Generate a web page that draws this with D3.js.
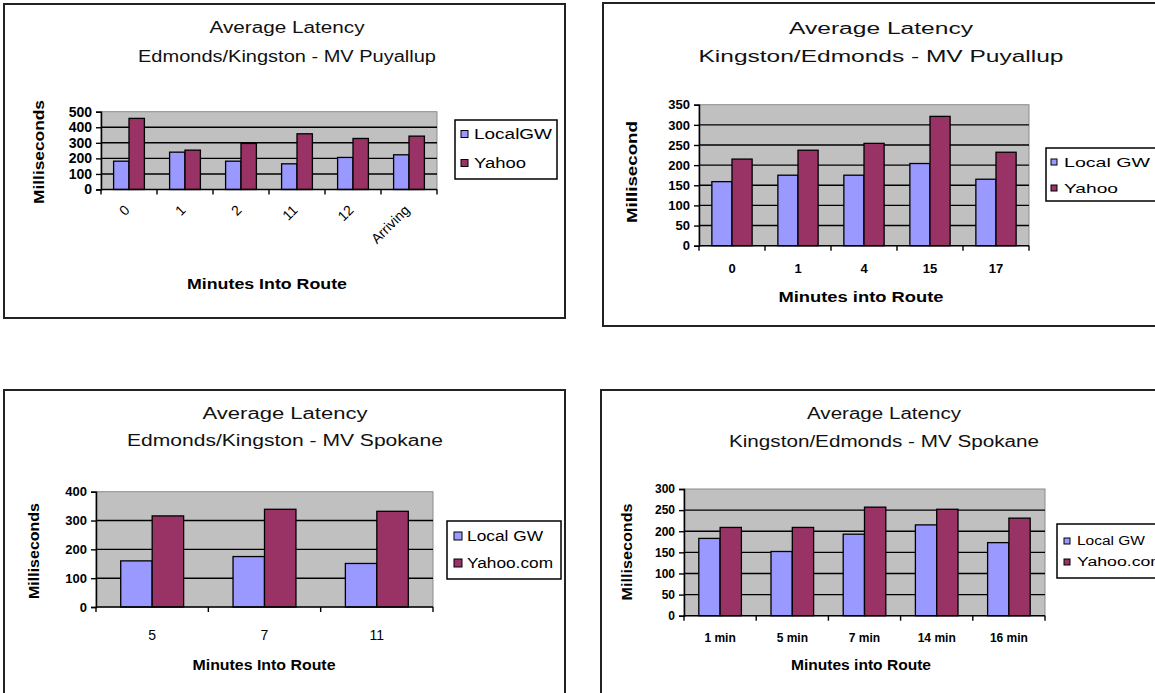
<!DOCTYPE html>
<html>
<head>
<meta charset="utf-8">
<script src="https://cdn.jsdelivr.net/npm/d3@7"></script>
<style>
  html, body { margin: 0; padding: 0; background: #ffffff; }
  svg { display: block; font-family: "Liberation Sans", Arial, sans-serif; }
</style>
</head>
<body>
<svg id="chart" width="1155" height="693"></svg>
<script>
// ---------------- DATA ----------------
const p1Title = ["Average Latency", "Edmonds/Kingston - MV Puyallup"];
const p1Categories = ["0", "1", "2", "11", "12", "Arriving"];
const p1Series = ["LocalGW", "Yahoo"];
const p1Local = [182, 240, 182, 165, 206, 223];
const p1Yahoo = [457, 253, 296, 358, 328, 343];
const p1Ticks = [0, 100, 200, 300, 400, 500];

const p2Title = ["Average Latency", "Kingston/Edmonds - MV Puyallup"];
const p2Categories = ["0", "1", "4", "15", "17"];
const p2Series = ["Local GW", "Yahoo"];
const p2Local = [159, 175, 175, 204, 165];
const p2Yahoo = [215, 237, 254, 321, 232];
const p2Ticks = [0, 50, 100, 150, 200, 250, 300, 350];

const p3Title = ["Average Latency", "Edmonds/Kingston - MV Spokane"];
const p3Categories = ["5", "7", "11"];
const p3Series = ["Local GW", "Yahoo.com"];
const p3Local = [160, 175, 151];
const p3Yahoo = [316, 339, 332];
const p3Ticks = [0, 100, 200, 300, 400];

const p4Title = ["Average Latency", "Kingston/Edmonds - MV Spokane"];
const p4Categories = ["1 min", "5 min", "7 min", "14 min", "16 min"];
const p4Series = ["Local GW", "Yahoo.com"];
const p4Local = [183, 152, 193, 215, 173];
const p4Yahoo = [209, 209, 257, 252, 231];
const p4Ticks = [0, 50, 100, 150, 200, 250, 300];

const xTitleA = "Minutes Into Route";
const xTitleB = "Minutes into Route";
const yTitleA = "Milliseconds";
const yTitleB = "Millisecond";

const colorLocal = "#9999FF";
const colorYahoo = "#993366";

// ---------------- DRAW ----------------
const svg = d3.select("#chart");
svg.append("rect").attr("width", 1155).attr("height", 693).attr("fill", "#fff");

function drawPanel(cfg) {
  const g = svg.append("g");
  // frame
  g.append("rect")
    .attr("x", cfg.frame[0]).attr("y", cfg.frame[1])
    .attr("width", cfg.frame[2] - cfg.frame[0]).attr("height", cfg.frame[3] - cfg.frame[1])
    .attr("fill", "#fff").attr("stroke", "#222").attr("stroke-width", 2);

  // titles
  cfg.title.forEach((t, i) => {
    g.append("text")
      .attr("x", cfg.titleX).attr("y", cfg.titleY[i])
      .attr("text-anchor", "middle")
      .attr("font-size", 16)
      .attr("textLength", cfg.titleW[i]).attr("lengthAdjust", "spacingAndGlyphs")
      .attr("fill", "#111")
      .text(t);
  });

  const y = d3.scaleLinear().domain([0, cfg.ticks[cfg.ticks.length - 1]]).range([cfg.y0, cfg.yTop]);
  const x0 = d3.scaleBand().domain(cfg.cats).range([cfg.left, cfg.right]).padding(0);
  const keys = ["local", "yahoo"];
  const bw = x0.bandwidth();
  const x1 = d3.scaleBand().domain(keys).range([bw * (1 - cfg.frac) / 2, bw * (1 + cfg.frac) / 2]).padding(0);

  // plot background
  g.append("rect")
    .attr("x", cfg.left).attr("y", y(cfg.ticks[cfg.ticks.length - 1]))
    .attr("width", cfg.right - cfg.left).attr("height", cfg.y0 - y(cfg.ticks[cfg.ticks.length - 1]))
    .attr("fill", "#C0C0C0").attr("stroke", "#8c8c8c").attr("stroke-width", 1);

  // gridlines
  g.selectAll(".grid").data(cfg.ticks.slice(1, -1)).enter().append("line")
    .attr("x1", cfg.left).attr("x2", cfg.right)
    .attr("y1", d => y(d)).attr("y2", d => y(d))
    .attr("stroke", "#000").attr("stroke-width", 1.4);

  // bars
  const rows = cfg.cats.map((c, i) => ({ cat: c, local: cfg.local[i], yahoo: cfg.yahoo[i] }));
  const grp = g.selectAll(".cat").data(rows).enter().append("g")
    .attr("transform", d => `translate(${x0(d.cat)},0)`);
  grp.selectAll("rect").data(d => keys.map(k => ({ key: k, value: d[k] }))).enter().append("rect")
    .attr("x", d => x1(d.key)).attr("width", x1.bandwidth())
    .attr("y", d => y(d.value)).attr("height", d => cfg.y0 - y(d.value))
    .attr("fill", d => d.key === "local" ? colorLocal : colorYahoo)
    .attr("stroke", "#000").attr("stroke-width", 1.3);

  // y axis
  const yAxis = d3.axisLeft(y).tickValues(cfg.ticks).tickSize(5).tickPadding(4).tickFormat(d3.format("d"));
  const ya = g.append("g").attr("transform", `translate(${cfg.left},0)`).call(yAxis);
  ya.select(".domain").attr("stroke", "#000").attr("stroke-width", 1.5);
  ya.selectAll(".tick line").attr("stroke", "#000").attr("stroke-width", 1.4);
  ya.selectAll("text").attr("font-size", cfg.yTickFont).attr("fill", "#000")
    .attr("font-family", '"Liberation Sans", Arial, sans-serif').attr("font-weight", "bold");

  // x axis: baseline line
  g.append("line").attr("x1", cfg.left).attr("x2", cfg.right).attr("y1", cfg.y0).attr("y2", cfg.y0)
    .attr("stroke", "#000").attr("stroke-width", 1.5);
  // category boundary ticks
  const bounds = cfg.cats.map(c => x0(c)).concat([cfg.right]);
  g.selectAll(".xt").data(bounds).enter().append("line")
    .attr("x1", d => d).attr("x2", d => d).attr("y1", cfg.y0).attr("y2", cfg.y0 + 5)
    .attr("stroke", "#000").attr("stroke-width", 1.4);
  // category labels
  const xAxis = d3.axisBottom(x0).tickSize(0).tickPadding(0);
  const xa = g.append("g").attr("transform", `translate(0,${cfg.y0})`).call(xAxis);
  xa.select(".domain").remove();
  const xt = xa.selectAll("text").attr("font-size", cfg.tickFont).attr("fill", "#000")
    .attr("font-family", '"Liberation Sans", Arial, sans-serif')
    .attr("font-weight", cfg.xBold ? "bold" : "normal");
  if (cfg.rotate) {
    xt.attr("text-anchor", "end").attr("dy", "0.35em")
      .attr("transform", "translate(-2,18) rotate(-45)");
  } else {
    xt.attr("dy", 0).attr("y", cfg.xLabelY - cfg.y0);
  }

  // axis titles
  g.append("text").attr("x", cfg.xTitlePos[0]).attr("y", cfg.xTitlePos[1])
    .attr("text-anchor", "middle").attr("font-size", 14).attr("font-weight", "bold")
    .attr("textLength", cfg.xTitlePos[2]).attr("lengthAdjust", "spacingAndGlyphs")
    .text(cfg.xTitle);
  g.append("text")
    .attr("transform", `translate(${cfg.yTitlePos[0]},${cfg.yTitlePos[1]}) rotate(-90)`)
    .attr("text-anchor", "middle").attr("font-size", 14).attr("font-weight", "bold")
    .attr("textLength", cfg.yTitlePos[2]).attr("lengthAdjust", "spacingAndGlyphs")
    .text(cfg.yTitle);

  // legend
  const L = cfg.legend;
  g.append("rect").attr("x", L.box[0]).attr("y", L.box[1])
    .attr("width", L.box[2] - L.box[0]).attr("height", L.box[3] - L.box[1])
    .attr("fill", "#fff").attr("stroke", "#000").attr("stroke-width", 1.5);
  const colors = [colorLocal, colorYahoo];
  cfg.series.forEach((s, i) => {
    g.append("rect").attr("x", L.sx).attr("y", L.rows[i] - L.ss / 2)
      .attr("width", L.ss).attr("height", L.ss)
      .attr("fill", colors[i]).attr("stroke", "#000").attr("stroke-width", 1);
    g.append("text").attr("x", L.tx).attr("y", L.rows[i]).attr("dy", "0.36em")
      .attr("font-size", L.font)
      .attr("textLength", L.tw[i]).attr("lengthAdjust", "spacingAndGlyphs")
      .text(s);
  });
}

drawPanel({
  frame: [4, 4, 565, 318],
  title: p1Title, titleX: 287, titleY: [33, 62], titleW: [155, 298],
  cats: p1Categories, local: p1Local, yahoo: p1Yahoo, ticks: p1Ticks, series: p1Series,
  left: 101, right: 437, y0: 189.5, yTop: 111.7, frac: 0.55, tickFont: 14, yTickFont: 14, rotate: true, xBold: false,
  xTitle: xTitleA, xTitlePos: [267, 289, 160],
  yTitle: yTitleA, yTitlePos: [44, 152, 104],
  legend: { box: [455, 120, 557, 179], rows: [134, 163], sx: 461, ss: 7, tx: 474, tw: [78, 52], font: 14 }
});

drawPanel({
  frame: [603, 3, 1165, 326],
  title: p2Title, titleX: 881, titleY: [34, 62], titleW: [184, 365],
  cats: p2Categories, local: p2Local, yahoo: p2Yahoo, ticks: p2Ticks, series: p2Series,
  left: 699, right: 1029, y0: 245.7, yTop: 104.7, frac: 0.61, tickFont: 13, yTickFont: 13, rotate: false, xBold: true, xLabelY: 273,
  xTitle: xTitleB, xTitlePos: [861, 302, 165],
  yTitle: yTitleB, yTitlePos: [637, 172, 102],
  legend: { box: [1046, 148, 1170, 201], rows: [162, 188], sx: 1051, ss: 6, tx: 1064, tw: [86, 54], font: 13 }
});

drawPanel({
  frame: [4, 390, 565, 700],
  title: p3Title, titleX: 285, titleY: [419, 446], titleW: [165, 316],
  cats: p3Categories, local: p3Local, yahoo: p3Yahoo, ticks: p3Ticks, series: p3Series,
  left: 96, right: 433, y0: 607, yTop: 491.7, frac: 0.56, tickFont: 14, yTickFont: 13, rotate: false, xBold: false, xLabelY: 640,
  xTitle: xTitleA, xTitlePos: [264, 670, 143],
  yTitle: yTitleA, yTitlePos: [39, 551, 96],
  legend: { box: [447, 521, 561, 579], rows: [536, 563], sx: 454, ss: 8, tx: 467, tw: [76, 86], font: 14 }
});

drawPanel({
  frame: [601, 390, 1165, 700],
  title: p4Title, titleX: 884, titleY: [419, 447], titleW: [154, 310],
  cats: p4Categories, local: p4Local, yahoo: p4Yahoo, ticks: p4Ticks, series: p4Series,
  left: 684, right: 1045, y0: 615.7, yTop: 489, frac: 0.59, tickFont: 12, yTickFont: 12, rotate: false, xBold: true, xLabelY: 642,
  xTitle: xTitleB, xTitlePos: [861, 670, 140],
  yTitle: yTitleA, yTitlePos: [632, 552, 97],
  legend: { box: [1057, 524, 1170, 578], rows: [541, 562], sx: 1064, ss: 6, tx: 1077, tw: [68, 88], font: 12 }
});
</script>
</body>
</html>
